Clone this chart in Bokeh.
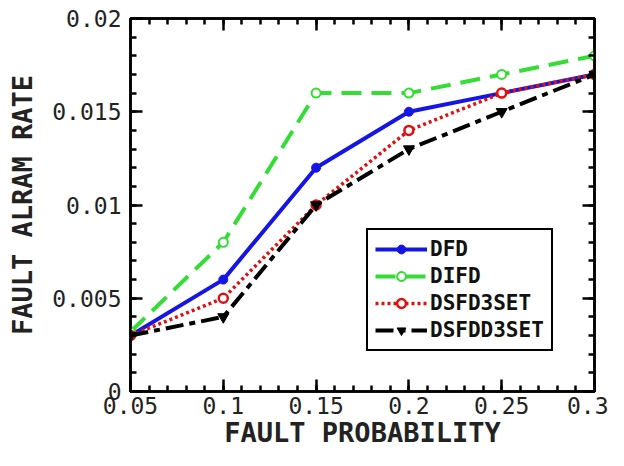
from bokeh.plotting import figure
from bokeh.models import (Legend, LegendItem, FixedTicker, LinearAxis, Range1d)
from bokeh.embed import file_html
from bokeh.resources import INLINE

x = [0.05, 0.1, 0.15, 0.2, 0.25, 0.3]
dfd = [0.003, 0.006, 0.012, 0.015, 0.016, 0.017]
difd = [0.0032, 0.008, 0.016, 0.016, 0.017, 0.018]
dsfd3set = [0.003, 0.005, 0.010, 0.014, 0.016, 0.017]
dsfdd3set = [0.003, 0.004, 0.010, 0.013, 0.015, 0.017]

x_ticks = [0.05, 0.1, 0.15, 0.2, 0.25, 0.3]
x_tick_labels = ["0.05", "0.1", "0.15", "0.2", "0.25", "0.3"]
y_ticks = [0, 0.005, 0.01, 0.015, 0.02]
y_tick_labels = ["0", "0.005", "0.01", "0.015", "0.02"]

FONT = "DejaVu Sans Mono"

p = figure(width=608, height=450, output_backend="svg", toolbar_location=None,
           x_range=Range1d(0.05, 0.3), y_range=Range1d(0, 0.02),
           min_border_left=130, min_border_right=14, min_border_top=18,
           min_border_bottom=58)
p.grid.visible = False
p.outline_line_color = "black"
p.outline_line_width = 2.5
p.background_fill_color = "white"
p.border_fill_color = "white"

x_minor = [round(0.05 + i * 0.01, 3) for i in range(26)]
y_minor = [round(i * 0.001, 4) for i in range(21)]

def style_axis(ax, ticks, minor, labels, show_labels):
    ax.ticker = FixedTicker(ticks=ticks, minor_ticks=minor)
    ax.major_tick_in = 12
    ax.major_tick_out = 0
    ax.minor_tick_in = 6
    ax.minor_tick_out = 0
    ax.major_tick_line_width = 2.5
    ax.minor_tick_line_width = 2.5
    ax.major_tick_line_color = "black"
    ax.minor_tick_line_color = "black"
    ax.axis_line_width = 2.5
    ax.axis_line_color = "black"
    ax.major_label_text_font = FONT
    ax.major_label_text_font_size = "23px"
    ax.major_label_text_color = "#222222"
    if show_labels:
        ax.major_label_overrides = {t: l for t, l in zip(ticks, labels)}
    else:
        ax.major_label_text_color = None
        ax.major_label_text_font_size = "2px"
        ax.major_label_standoff = 0
    ax.axis_label_text_font = FONT
    ax.axis_label_text_font_size = "27px"
    ax.axis_label_text_font_style = "bold"
    ax.axis_label_text_color = "#222222"

style_axis(p.xaxis[0], x_ticks, x_minor, x_tick_labels, True)
style_axis(p.yaxis[0], y_ticks, y_minor, y_tick_labels, True)
p.xaxis[0].axis_label = "FAULT PROBABILITY"
p.yaxis[0].axis_label = "FAULT ALRAM RATE"
p.xaxis[0].major_label_standoff = 5
p.yaxis[0].major_label_standoff = 9
p.xaxis[0].axis_label_standoff = 0
p.yaxis[0].axis_label_standoff = 11

top = LinearAxis()
right = LinearAxis()
style_axis(top, x_ticks, x_minor, x_tick_labels, False)
style_axis(right, y_ticks, y_minor, y_tick_labels, False)
p.add_layout(top, "above")
p.add_layout(right, "right")

blue = "#1515e6"
green = "#33dd33"
red = "#e01010"

l1 = p.line(x, dfd, line_color=blue, line_width=4)
s1 = p.scatter(x, dfd, marker="circle", size=9, fill_color=blue, line_color=blue)
l2 = p.line(x, difd, line_color=green, line_width=4, line_dash="20 10")
s2 = p.scatter(x, difd, marker="circle", size=9, fill_color="white", line_color=green, line_width=2)
l3 = p.line(x, dsfd3set, line_color=red, line_width=3.5, line_dash="3 3")
s3 = p.scatter(x, dsfd3set, marker="circle", size=9, fill_color="white", line_color=red, line_width=2.5)
l4 = p.line(x, dsfdd3set, line_color="black", line_width=4, line_dash="18 6 6 6")
s4 = p.scatter(x, dsfdd3set, marker="inverted_triangle", size=11, fill_color="black", line_color="black")

legend = Legend(items=[
    LegendItem(label="DFD", renderers=[l1, s1]),
    LegendItem(label="DIFD", renderers=[l2, s2]),
    LegendItem(label="DSFD3SET", renderers=[l3, s3]),
    LegendItem(label="DSFDD3SET", renderers=[l4, s4]),
], location=(236, 40))
legend.label_text_font = FONT
legend.label_text_font_size = "21px"
legend.label_text_font_style = "bold"
legend.label_text_color = "#111111"
legend.border_line_color = "black"
legend.border_line_alpha = 1.0
legend.border_line_width = 2.5
legend.glyph_width = 52
legend.glyph_height = 22
legend.label_standoff = 3
legend.spacing = 3
legend.padding = 7
legend.margin = 0
legend.background_fill_alpha = 1
p.add_layout(legend, "center")

open("out.html", "w").write(file_html(p, INLINE))
